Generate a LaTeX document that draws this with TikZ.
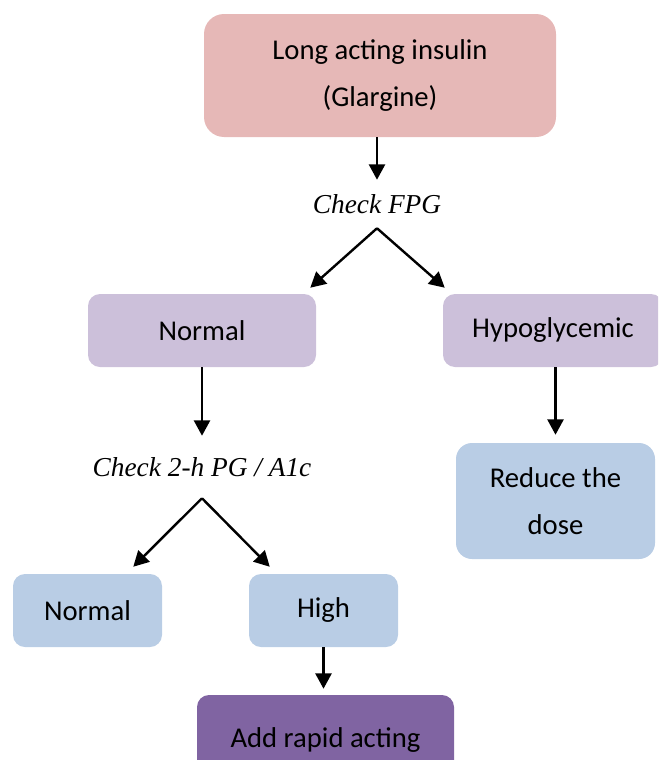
\documentclass[tikz,border=0pt]{standalone}
\usepackage{fontspec}
\setmainfont{Carlito}
\newfontfamily\probeserif{Liberation Serif}
\usetikzlibrary{arrows.meta}
\definecolor{insulinpink}{HTML}{E6B8B7}
\definecolor{insulinlilac}{HTML}{CCC0DA}
\definecolor{insulinblue}{HTML}{B9CDE5}
\definecolor{insulinplum}{HTML}{8064A2}
\newcommand{\boxfont}{\fontsize{21.5}{35}\selectfont}
\newcommand{\probefont}{\probeserif\itshape\fontsize{20.5}{24}\selectfont}

\begin{document}
\begin{tikzpicture}[x=0.75pt, y=-0.75pt,
  pinkbox/.style={fill=insulinpink, rounded corners=15pt, minimum width=264pt, minimum height=92.25pt, align=center, font=\boxfont},
  lilacbox/.style={fill=insulinlilac, rounded corners=9pt, minimum height=54.75pt, align=center, font=\boxfont},
  bluebox/.style={fill=insulinblue, rounded corners=9pt, minimum height=54.75pt, align=center, font=\boxfont},
  plumbox/.style={fill=insulinplum, rounded corners=9pt, minimum width=192.75pt, minimum height=67.5pt, font=\boxfont},
  probe/.style={font=\probefont, inner sep=0pt},
  arrow/.style={-{Triangle[length=11.5pt, width=12pt]}, line width=1.8pt}
]
\useasboundingbox (0,0) rectangle (658,760);
\clip (0,0) rectangle (658,760);
\node[pinkbox] (title) at (380,75.5) {Long acting insulin\\(Glargine)};
\node[probe, minimum height=36pt] (fpg) at (377,204) {Check FPG};
\node[lilacbox, minimum width=171pt] (normal) at (202,330.5) {Normal};
\node[lilacbox, minimum width=165pt] (hypo) at (553,330.5) {Hypoglycemic};
\node[probe, minimum height=46.5pt] (pgcheck) at (202,467) {Check 2-h PG / A1c};
\node[bluebox, minimum width=149.25pt, minimum height=87pt, rounded corners=12pt] (reduce) at (555.5,501) {Reduce the\\dose};
\node[bluebox, minimum width=111.75pt] (pgnormal) at (87.5,610.5) {Normal};
\node[bluebox, minimum width=111.75pt] (high) at (323.5,610.5) {High};
\node[plumbox] (rapid) at (325.5,740) {Add rapid acting};
% connectors
\draw[arrow] (title.south -| fpg.north) -- (fpg.north);
\draw[arrow] (fpg.south) -- ([xshift=-4.5pt, yshift=4.5pt]normal.north east);
\draw[arrow] (fpg.south) -- ([xshift=1.5pt, yshift=4.5pt]hypo.north west);
\draw[arrow] (normal.south) -- (pgcheck.north);
\draw[arrow] (hypo.south -| reduce.north) -- ([yshift=6pt]reduce.north);
\draw[arrow] (pgcheck.south) -- ([xshift=-21.75pt, yshift=5.25pt]pgnormal.north east);
\draw[arrow] (pgcheck.south) -- ([xshift=15.75pt, yshift=5.25pt]high.north west);
\draw[arrow] (high.south) -- ([yshift=4.5pt]rapid.north -| high.south);
\end{tikzpicture}
\end{document}
